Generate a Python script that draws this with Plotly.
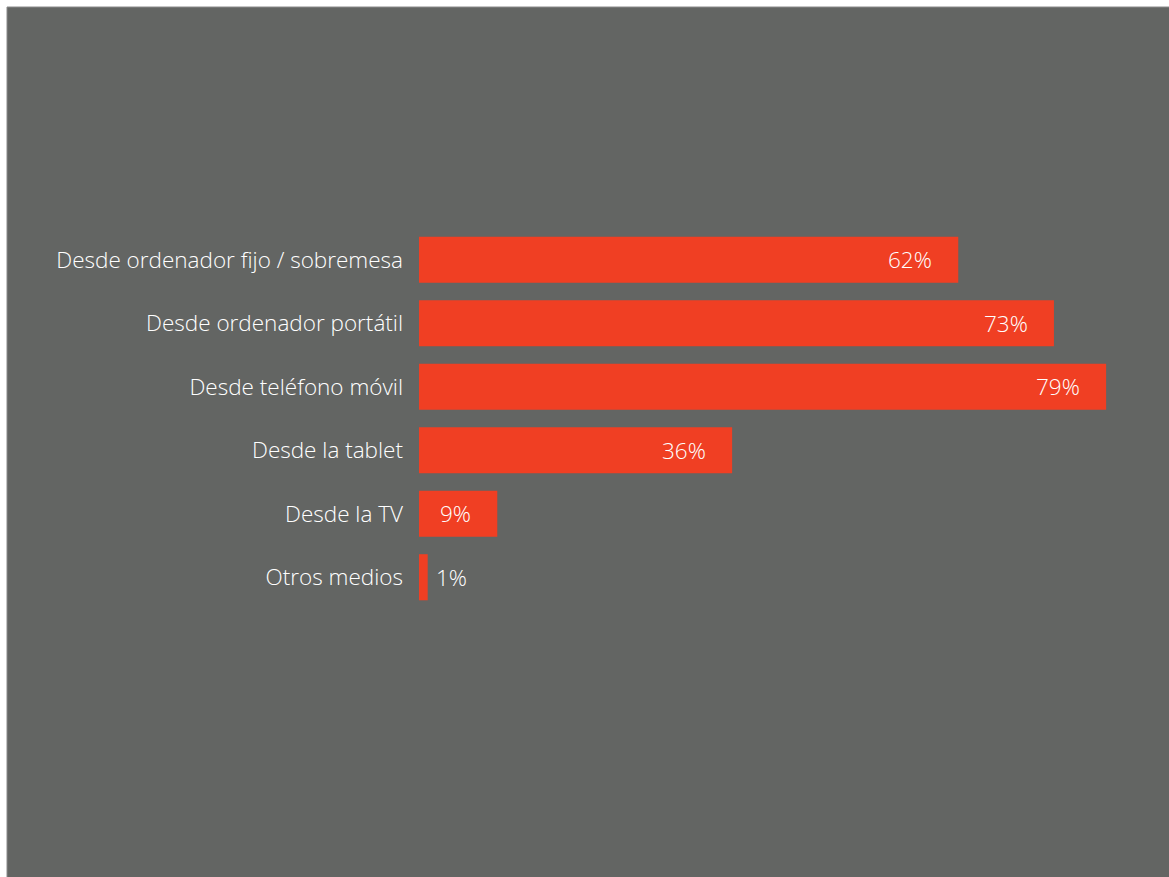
import plotly.graph_objects as go

# Survey: devices used to access the internet (% of respondents)
categories = [
    "Desde ordenador fijo / sobremesa",
    "Desde ordenador portátil",
    "Desde teléfono móvil",
    "Desde la tablet",
    "Desde la TV",
    "Otros medios",
]
values = [62, 73, 79, 36, 9, 1]
value_labels = ["62%", "73%", "79%", "36%", "9%", "1%"]

BG = "#636563"
BAR = "#F03F23"
FONT = "Open Sans"
FS = 22.5

W, H = 1169, 877
ML, MR, MT, MB = 419, 2, 228, 268

fig = go.Figure(
    go.Bar(
        x=values,
        y=categories,
        orientation="h",
        marker=dict(color=BAR, line=dict(width=0)),
        hoverinfo="skip",
    )
)

# value labels: inside the bar end for large values, just outside for tiny ones
for cat, v, lab in zip(categories, values, value_labels):
    inside = v >= 5
    fig.add_annotation(
        x=v, y=cat, xref="x", yref="y",
        text=lab, showarrow=False,
        xanchor="right" if inside else "left",
        xshift=-24 if inside else 6,
        font=dict(family=FONT, size=FS, color="white", weight=300),
    )

# white frame around the grey panel (top and left edges only)
pw = W - ML - MR
ph = H - MT - MB
fig.add_shape(
    type="rect", xref="paper", yref="paper",
    x0=(7 - ML) / pw, x1=(W + 5 - ML) / pw,
    y0=-(MB + 5) / ph, y1=1 + (MT - 7) / ph,
    fillcolor=BG, line=dict(width=1, color="#8a8a8a"), layer="below",
)

fig.update_layout(
    width=W, height=H,
    margin=dict(l=ML, r=MR, t=MT, b=MB),
    paper_bgcolor="white",
    plot_bgcolor=BG,
    bargap=0.274,
    showlegend=False,
    xaxis=dict(range=[0, 86], visible=False, fixedrange=True),
    yaxis=dict(
        autorange="reversed",
        showgrid=False, zeroline=False, showline=False,
        ticks="", ticklabelstandoff=15,
        tickfont=dict(family=FONT, size=FS, color="white", weight=300),
        fixedrange=True,
    ),
)

fig.write_html("out.html")
